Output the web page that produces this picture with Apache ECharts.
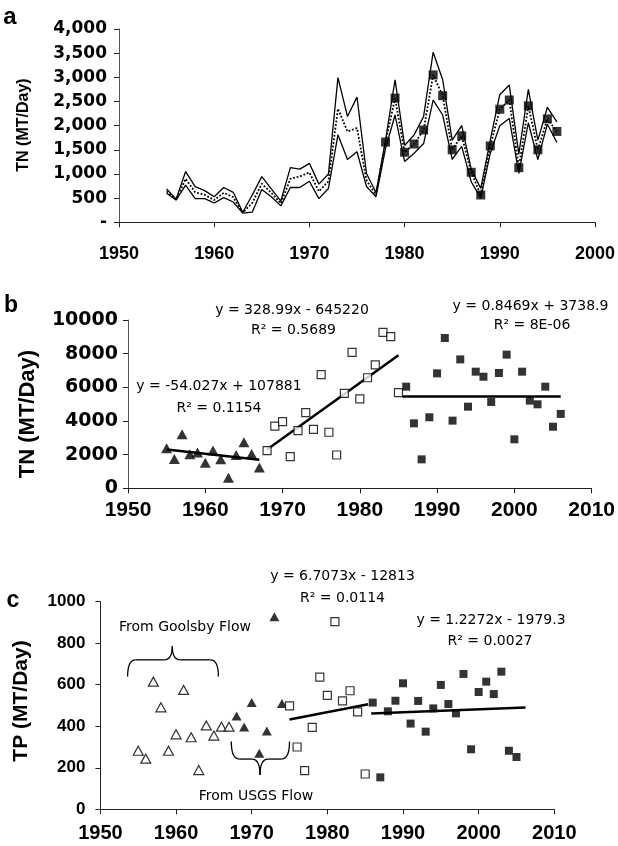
<!DOCTYPE html>
<html>
<head>
<meta charset="utf-8">
<script src="https://cdn.jsdelivr.net/npm/echarts@6/dist/echarts.min.js"></script>
<style>
  html, body { margin: 0; padding: 0; background: #fff; }
  #main { width: 618px; height: 846px; }
</style>
</head>
<body>
<div id="main"></div>
<script>
// ---- panel a : TN load, 1955-1996 ----
var yearsA = [1955,1956,1957,1958,1959,1960,1961,1962,1963,1964,1965,1966,1967,1968,1969,1970,1971,1972,1973,1974,1975,1976,1977,1978,1979,1980,1981,1982,1983,1984,1985,1986,1987,1988,1989,1990,1991,1992,1993,1994,1995,1996];
var upperA = [690,480,1050,740,655,530,720,620,207,565,945,690,440,1130,1100,1220,790,1000,2995,2190,2590,1010,615,1700,2950,1590,1810,2190,3520,2950,1700,2000,1100,700,1700,2640,2840,1410,2750,1700,2380,2080];
var middleA = [640,470,900,620,570,460,610,520,200,400,800,610,390,900,950,1030,640,850,2350,1880,1950,870,570,1660,2570,1450,1620,1910,3050,2620,1500,1790,1035,565,1580,2340,2530,1130,2410,1500,2140,1880];
var lowerA = [600,460,770,490,490,400,510,420,190,210,680,530,340,720,720,850,490,700,1810,1300,1460,740,530,1530,2220,1260,1430,1630,2530,2220,1300,1570,840,500,1430,2000,2150,1010,2060,1300,2030,1650];
var squareYearsA = [1978,1979,1980,1981,1982,1983,1984,1985,1986,1987,1988,1989,1990,1991,1992,1993,1994,1995,1996];
var squareA = [1660,2570,1450,1620,1910,3050,2620,1500,1790,1035,565,1580,2340,2530,1130,2410,1500,2140,1880];

// ---- panel b : TN (MT/Day) ----
var triYearsB = [1955,1956,1957,1958,1959,1960,1961,1962,1963,1964,1965,1966,1967];
var triB = [2380,1740,3210,2020,2120,1525,2240,1720,630,1980,2730,2040,1230];
var openYearsB = [1968,1969,1970,1971,1972,1973,1974,1975,1976,1977,1978,1979,1980,1981,1982,1983,1984,1985];
var openB = [2240,3700,3960,1880,3430,4500,3500,6750,3330,1980,5640,8080,5310,6570,7330,9270,9010,5680];
var fillYearsB = [1986,1987,1988,1989,1990,1991,1992,1993,1994,1995,1996,1997,1998,1999,2000,2001,2002,2003,2004,2005,2006];
var fillB = [6040,3860,1720,4220,6830,8930,4020,7660,4850,6930,6630,5130,6850,7940,2910,6930,5210,4990,6040,3660,4420];
var trendTriB = [[1955, 2300], [1967, 1700]];
var trendOpenB = [[1968, 2300], [1985, 7900]];
var trendFillB = [[1985.5, 5450], [2006, 5450]];

// ---- panel c : TP (MT/Day) ----
var openTriYearsC = [1955,1956,1957,1958,1959,1960,1961,1962,1963,1964,1965,1966,1967];
var openTriC = [282,244,615,491,282,361,575,347,189,404,355,398,398];
var fillTriYearsC = [1968,1969,1970,1971,1972,1973,1974];
var fillTriC = [449,396,514,270,377,928,510];
var openYearsC = [1975,1976,1977,1978,1979,1980,1981,1982,1983,1984,1985];
var openC = [498,300,186,395,637,549,904,522,571,469,170];
var fillYearsC = [1986,1987,1988,1989,1990,1991,1992,1993,1994,1995,1996,1997,1998,1999,2000,2001,2002,2003,2004,2005];
var fillC = [514,154,472,523,607,413,522,374,486,599,507,462,652,289,565,615,555,663,282,252];
var trendOpenC = [[1975, 433], [1985.4, 506]];
var trendFillC = [[1985.8, 461], [2006.2, 490]];

function pairs(xs, ys) {
  return xs.map(function (x, i) { return [x, ys[i]]; });
}

var chart = echarts.init(document.getElementById('main'));

var dejaBold = { fontFamily: 'DejaVu Sans', fontWeight: 'bold', color: '#000' };
var libBold = { fontFamily: 'Liberation Sans', fontWeight: 'bold', color: '#000' };
var plain = function (v) { return String(v); };

function xAx(grid, max, size, margin) {
  return {
    type: 'value', gridIndex: grid, min: 1950, max: max, interval: 10,
    axisLine: { lineStyle: { color: '#222', width: 1.2 } },
    axisTick: { inside: false, length: 5, lineStyle: { color: '#222' } },
    axisLabel: Object.assign({ fontSize: size, margin: margin, formatter: plain }, libBold),
    splitLine: { show: false }
  };
}
function yAx(grid, max, step, font, margin, fmt, color) {
  return {
    type: 'value', gridIndex: grid, min: 0, max: max, interval: step,
    axisLine: { show: true, lineStyle: { color: color, width: 1 } },
    axisTick: { show: true, length: 5, lineStyle: { color: '#222' } },
    axisLabel: Object.assign({ margin: margin, formatter: fmt }, font),
    splitLine: { show: false }
  };
}

function scat(xi, data, symbol, size, open) {
  return {
    type: 'scatter', xAxisIndex: xi, yAxisIndex: xi, data: data,
    symbol: symbol, symbolSize: size, z: 5,
    itemStyle: open ? { color: '#fff', borderColor: '#000', borderWidth: 1.2 } : { color: '#000' }
  };
}
function trend(xi, data) {
  return {
    type: 'line', xAxisIndex: xi, yAxisIndex: xi, data: data, showSymbol: false,
    lineStyle: { color: '#000', width: 2.5 }, z: 4, silent: true
  };
}
function band(data, dotted) {
  return {
    type: 'line', xAxisIndex: 0, yAxisIndex: 0, data: data, showSymbol: false,
    lineStyle: { color: '#000', width: dotted ? 1.8 : 1.3, type: dotted ? 'dotted' : 'solid' }
  };
}

function txt(x, y, s, size, weight, family, rot) {
  return {
    type: 'text', x: x, y: y, rotation: rot || 0, z: 10,
    style: {
      text: s, fill: '#000', fontSize: size, fontWeight: weight || 'normal',
      fontFamily: family || 'DejaVu Sans', align: 'center', verticalAlign: 'middle'
    }
  };
}

var option = {
  animation: false,
  grid: [
    { left: 119, right: 21.5, top: 29, height: 193.3 },
    { left: 128, right: 24, top: 320, height: 168.3 },
    { left: 100.4, right: 63.7, top: 601.7, height: 207.6 }
  ],
  xAxis: [xAx(0, 2000, 18, 23), xAx(1, 2010, 21, 11), xAx(2, 2010, 20, 14)],
  yAxis: [
    yAx(0, 4000, 500, Object.assign({ fontSize: 17 }, dejaBold), 12,
      function (v) { return v === 0 ? '-' : v.toLocaleString('en-US'); }, '#555'),
    yAx(1, 10000, 2000, Object.assign({ fontSize: 19 }, dejaBold), 10, plain, '#555'),
    yAx(2, 1000, 200, Object.assign({ fontSize: 17 }, libBold), 15, plain, '#222')
  ],
  series: [
    band(pairs(yearsA, upperA), false),
    band(pairs(yearsA, lowerA), false),
    band(pairs(yearsA, middleA), true),
    scat(0, pairs(squareYearsA, squareA), 'rect', 9, false),

    trend(1, trendTriB), trend(1, trendOpenB), trend(1, trendFillB),
    scat(1, pairs(triYearsB, triB), 'triangle', [11, 10], false),
    scat(1, pairs(openYearsB, openB), 'rect', 8, true),
    scat(1, pairs(fillYearsB, fillB), 'rect', 8, false),

    trend(2, trendOpenC), trend(2, trendFillC),
    scat(2, pairs(openTriYearsC, openTriC), 'triangle', [10, 9], true),
    scat(2, pairs(fillTriYearsC, fillTriC), 'triangle', [10, 9], false),
    scat(2, pairs(openYearsC, openC), 'rect', 8, true),
    scat(2, pairs(fillYearsC, fillC), 'rect', 8, false)
  ]
};
chart.setOption(option);

// braces in panel c, placed through the panel's own scales
function brace(x0, x1, xm, yEnd, yBar, yTip) {
  var p = function (x, y) { return chart.convertToPixel({ gridIndex: 2 }, [x, y]); };
  var a = p(x0, yEnd), b = p(x0, yBar), m = p(xm, yBar), t = p(xm, yTip), c = p(x1, yBar), d = p(x1, yEnd);
  var r = 8;
  var st = { stroke: '#000', fill: null, lineWidth: 1.3 };
  var curve = function (x1, y1, cx, cy, x2, y2) {
    return { type: 'bezierCurve', z: 3, shape: { x1: x1, y1: y1, cpx1: cx, cpy1: cy, x2: x2, y2: y2 }, style: st };
  };
  var seg = function (x1, y1, x2, y2) {
    return { type: 'line', z: 3, shape: { x1: x1, y1: y1, x2: x2, y2: y2 }, style: st };
  };
  return [
    curve(a[0], a[1], b[0], b[1], b[0] + r, b[1]),
    seg(b[0] + r, b[1], m[0] - r, m[1]),
    curve(m[0] - r, m[1], m[0], m[1], t[0], t[1]),
    curve(t[0], t[1], m[0], m[1], m[0] + r, m[1]),
    seg(m[0] + r, m[1], c[0] - r, c[1]),
    curve(c[0] - r, c[1], c[0], c[1], d[0], d[1])
  ];
}

var labels = [
  txt(10, 17, 'a', 24, 'bold', 'Liberation Sans'),
  txt(11, 306, 'b', 23, 'bold', 'Liberation Sans'),
  txt(13, 601, 'c', 23, 'bold', 'Liberation Sans'),
  txt(23.6, 125, 'TN (MT/Day)', 16, 'bold', 'Liberation Sans', Math.PI / 2),
  txt(28, 414, 'TN (MT/Day)', 22, 'bold', 'Liberation Sans', Math.PI / 2),
  txt(21.7, 701, 'TP (MT/Day)', 21, 'bold', 'Liberation Sans', Math.PI / 2),

  txt(292, 310, 'y = 328.99x - 645220', 14),
  txt(293.5, 330, 'R² = 0.5689', 14),
  txt(530.5, 306.5, 'y = 0.8469x + 3738.9', 14),
  txt(532, 325, 'R² = 8E-06', 14),
  txt(219, 386, 'y = -54.027x + 107881', 14),
  txt(219, 408, 'R² = 0.1154', 14),

  txt(342.5, 576, 'y = 6.7073x - 12813', 14),
  txt(342.5, 598, 'R² = 0.0114', 14),
  txt(491, 620, 'y = 1.2272x - 1979.3', 14),
  txt(490, 641, 'R² = 0.0027', 14),
  txt(185, 627.3, 'From Goolsby Flow', 14),
  txt(256, 796, 'From USGS Flow', 14)
];

chart.setOption({
  graphic: labels
    .concat(brace(1953.6, 1965.6, 1959.5, 640, 720, 785))
    .concat(brace(1967.3, 1975.0, 1971.1, 326, 242, 165))
});
</script>
</body>
</html>
